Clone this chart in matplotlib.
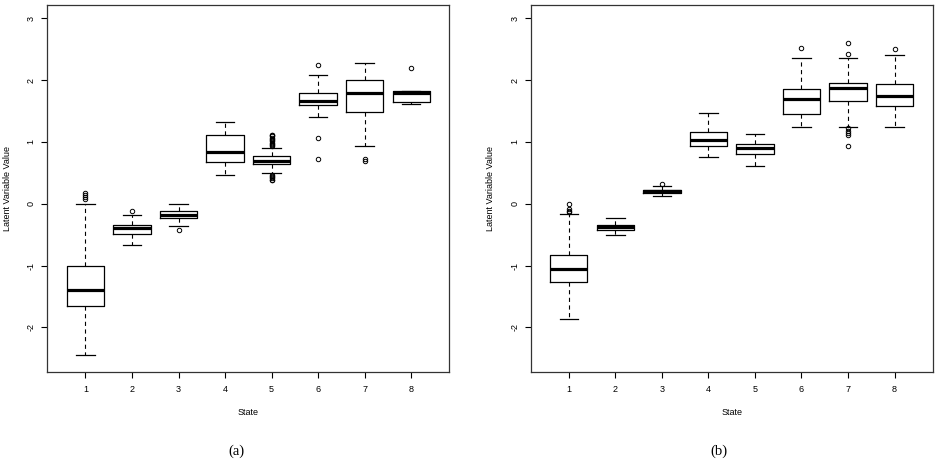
import numpy as np
import matplotlib
matplotlib.use("Agg")
import matplotlib.pyplot as plt

plt.rcParams['font.family'] = ['Liberation Sans', 'DejaVu Sans']
plt.rcParams['lines.scale_dashes'] = False

states = [1, 2, 3, 4, 5, 6, 7, 8]

# panel (a)
a_whislo = [-2.44, -0.67, -0.36, 0.47, 0.50, 1.40, 0.93, 1.61]
a_q1 = [-1.65, -0.49, -0.23, 0.67, 0.65, 1.60, 1.48, 1.64]
a_med = [-1.39, -0.39, -0.18, 0.83, 0.70, 1.66, 1.79, 1.80]
a_q3 = [-1.00, -0.35, -0.11, 1.11, 0.77, 1.80, 2.00, 1.82]
a_whishi = [0.00, -0.18, 0.00, 1.33, 0.91, 2.09, 2.27, 1.82]
a_fliers = [
    [0.07, 0.11, 0.15, 0.18],
    [-0.11],
    [-0.42],
    [],
    [0.93, 0.95, 0.97, 0.99, 1.01, 1.03, 1.05, 1.07, 1.09, 1.11, 1.12,
     0.38, 0.39, 0.41, 0.43, 0.45, 0.47],
    [2.25, 1.06, 0.73],
    [0.70, 0.72],
    [2.20],
]

# panel (b)
b_whislo = [-1.87, -0.50, 0.13, 0.75, 0.61, 1.25, 1.25, 1.25]
b_q1 = [-1.26, -0.42, 0.18, 0.93, 0.80, 1.45, 1.67, 1.58]
b_med = [-1.05, -0.38, 0.20, 1.03, 0.90, 1.70, 1.87, 1.75]
b_q3 = [-0.83, -0.34, 0.22, 1.16, 0.96, 1.86, 1.96, 1.93]
b_whishi = [-0.17, -0.23, 0.28, 1.47, 1.13, 2.35, 2.35, 2.40]
b_fliers = [
    [0.00, -0.09, -0.11, -0.13],
    [],
    [0.32],
    [],
    [],
    [2.52],
    [2.60, 2.42, 1.22, 1.18, 1.14, 1.11, 0.93],
    [2.51],
]

y_ticks = [-2, -1, 0, 1, 2, 3]


def make_stats(lo, q1, med, q3, hi, fl):
    out = []
    for i in range(len(states)):
        out.append(dict(whislo=lo[i], q1=q1[i], med=med[i], q3=q3[i],
                        whishi=hi[i], fliers=fl[i]))
    return out


fig = plt.figure(figsize=(9.37, 4.62), dpi=100)
W, H = 937, 462
panels = [
    (make_stats(a_whislo, a_q1, a_med, a_q3, a_whishi, a_fliers), 47.3, '(a)', 236),
    (make_stats(b_whislo, b_q1, b_med, b_q3, b_whishi, b_fliers), 530.7, '(b)', 719),
]

for stats, x0, tag, tagx in panels:
    ax = fig.add_axes([x0 / W, 1 - 372 / H, 402 / W, 367.3 / H])
    ax.bxp(stats, positions=states, widths=0.8, capwidths=0.4,
           boxprops=dict(color='black', linewidth=0.9),
           medianprops=dict(color='black', linewidth=2.3, solid_capstyle='butt'),
           whiskerprops=dict(color='black', linewidth=0.8, linestyle=(0, (3, 2.5))),
           capprops=dict(color='black', linewidth=0.9),
           flierprops=dict(marker='o', markersize=3.2, markerfacecolor='none',
                           markeredgecolor='black', markeredgewidth=0.7))
    ax.set_xlim(0.18, 8.82)
    ax.set_ylim(-2.72, 3.22)
    ax.set_xticks(states)
    ax.set_xticklabels([str(s) for s in states])
    ax.set_yticks(y_ticks)
    ax.set_yticklabels([str(t) for t in y_ticks], rotation=90, va='center')
    ax.tick_params(axis='both', direction='out', length=4.3, width=0.8,
                   labelsize=6.5, colors='black')
    ax.tick_params(axis='x', pad=5)
    ax.tick_params(axis='y', pad=4)
    for sp in ax.spines.values():
        sp.set_linewidth(0.9)
        sp.set_color('#333333')
    ax.text(0.5, -0.1116, 'State', transform=ax.transAxes, ha='center',
            va='center', fontsize=6.5)
    ax.text(-0.0995, 0.5, 'Latent Variable Value', transform=ax.transAxes,
            ha='center', va='center', rotation=90, fontsize=6.5)
    fig.text(tagx / W, 1 - 451 / H, tag, ha='center', va='center',
             fontsize=10.5, family='Liberation Serif')

fig.savefig('out.png', dpi=100)
